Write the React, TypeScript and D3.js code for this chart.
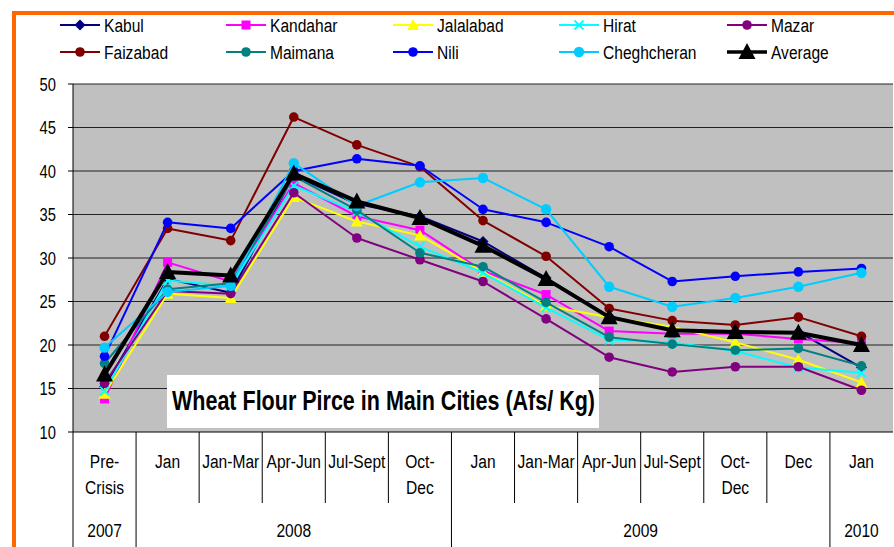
import React from "react";
import * as d3 from "d3";

const monthLabels: string[][] = [
  ["Pre-", "Crisis"], ["Jan"], ["Jan-Mar"], ["Apr-Jun"], ["Jul-Sept"], ["Oct-", "Dec"],
  ["Jan"], ["Jan-Mar"], ["Apr-Jun"], ["Jul-Sept"], ["Oct-", "Dec"], ["Dec"], ["Jan"],
];
const yearLabels = ["2007", "2008", "2009", "2010"];
const yearSpans = [1, 5, 6, 1];
const yTicks = [10, 15, 20, 25, 30, 35, 40, 45, 50];

const kabul = [15.2, 27.6, 26.0, 39.5, 36.2, 34.8, 31.9, 27.7, 23.3, 21.7, 21.5, 21.5, 17.4];
const kandahar = [13.8, 29.5, 27.3, 38.6, 34.8, 33.2, 28.5, 25.8, 21.6, 21.3, 21.3, 20.7, 20.2];
const jalalabad = [14.4, 25.9, 25.4, 37.0, 34.2, 32.6, 28.4, 24.5, 23.2, 22.1, 20.3, 18.3, 15.7];
const hirat = [14.7, 27.4, 26.8, 38.3, 35.3, 31.3, 28.3, 24.3, 20.6, 20.3, 19.3, 17.4, 16.8];
const mazar = [15.6, 26.2, 25.9, 37.5, 32.3, 29.8, 27.3, 23.0, 18.6, 16.9, 17.5, 17.5, 14.8];
const faizabad = [21.0, 33.4, 32.0, 46.2, 43.0, 40.5, 34.3, 30.2, 24.2, 22.8, 22.3, 23.2, 21.0];
const maimana = [17.9, 26.4, 27.1, 39.4, 35.5, 30.6, 29.0, 24.9, 20.9, 20.1, 19.4, 19.6, 17.6];
const nili = [18.7, 34.1, 33.4, 40.0, 41.4, 40.6, 35.6, 34.1, 31.3, 27.3, 27.9, 28.4, 28.8];
const cheghcheran = [19.7, 26.1, 26.8, 40.9, 36.0, 38.7, 39.2, 35.6, 26.7, 24.4, 25.4, 26.7, 28.3];
const average = [16.6, 28.4, 28.0, 39.7, 36.5, 34.6, 31.4, 27.6, 23.2, 21.7, 21.5, 21.4, 20.0];

const seriesNames = ["Kabul", "Kandahar", "Jalalabad", "Hirat", "Mazar", "Faizabad", "Maimana", "Nili", "Cheghcheran", "Average"];
const seriesValues = [kabul, kandahar, jalalabad, hirat, mazar, faizabad, maimana, nili, cheghcheran, average];
const seriesColors = ["#000080", "#FF00FF", "#FFFF00", "#00FFFF", "#800080", "#800000", "#008080", "#0000FF", "#00CCFF", "#000000"];
const seriesMarkers = ["diamond", "square", "triangle", "x", "circle", "circle", "circle", "circle", "circle", "bigtriangle"];

const FONT = "'Liberation Sans', Arial, sans-serif";
const NARROW = 0.82;

function NText({ x, y, size, anchor, children }: { x: number; y: number; size: number; anchor?: string; children: React.ReactNode }) {
  return (
    <g transform={`translate(${x},${y}) scale(${NARROW},1)`}>
      <text x={0} y={0} fontSize={size} textAnchor={anchor || "start"} fill="#000">{children}</text>
    </g>
  );
}

function Marker({ type, x, y, color }: { type: string; x: number; y: number; color: string }) {
  switch (type) {
    case "diamond":
      return <path d={`M${x},${y - 5.5}L${x + 5.5},${y}L${x},${y + 5.5}L${x - 5.5},${y}Z`} fill={color} />;
    case "square":
      return <rect x={x - 4.5} y={y - 4.5} width={9} height={9} fill={color} />;
    case "triangle":
      return <path d={`M${x},${y - 6}L${x + 6},${y + 5}L${x - 6},${y + 5}Z`} fill={color} />;
    case "x":
      return (
        <g stroke={color} strokeWidth={1.8}>
          <line x1={x - 4.5} y1={y - 4.5} x2={x + 4.5} y2={y + 4.5} />
          <line x1={x - 4.5} y1={y + 4.5} x2={x + 4.5} y2={y - 4.5} />
        </g>
      );
    case "bigtriangle":
      return <path d={`M${x},${y - 9}L${x + 8.5},${y + 7}L${x - 8.5},${y + 7}Z`} fill={color} />;
    default:
      return <circle cx={x} cy={y} r={color === "#00CCFF" ? 5.2 : 4.8} fill={color} />;
  }
}

export default function App() {
  const W = 894, H = 547;
  const left = 73, right = 893, top = 84, bottom = 432;
  const x = d3.scaleBand<number>().domain(d3.range(monthLabels.length)).range([left, right]).padding(0);
  const y = d3.scaleLinear().domain([10, 50]).range([bottom, top]);
  const cx = (i: number) => (x(i) as number) + x.bandwidth() / 2;
  const line = d3.line<number>().x((_, i) => cx(i)).y((v) => y(v));

  const yearStarts: number[] = [];
  let acc = 0;
  yearSpans.forEach((s) => { yearStarts.push(acc); acc += s; });

  const legendCols = [60, 226, 393, 559, 727];
  const legendRows = [25, 52];

  return (
    <svg width={W} height={H} style={{ position: "absolute", left: 0, top: 0, display: "block" }} fontFamily={FONT}>
      <rect x={0} y={0} width={W} height={H} fill="#fff" />
      <rect x={13} y={11} width={W - 13} height={4} fill="#FF6600" />
      <rect x={12} y={11} width={4} height={H - 11} fill="#FF6600" />

      {/* legend */}
      {seriesNames.map((n, k) => {
        const col = k % 5, row = Math.floor(k / 5);
        const lx = legendCols[col], ly = legendRows[row];
        return (
          <g key={n}>
            <line x1={lx} x2={lx + 40} y1={ly} y2={ly} stroke={seriesColors[k]} strokeWidth={n === "Average" ? 3.5 : 2} />
            <Marker type={seriesMarkers[k]} x={lx + 20} y={ly} color={seriesColors[k]} />
            <NText x={lx + 44} y={ly + 7} size={19}>{n}</NText>
          </g>
        );
      })}

      {/* plot area */}
      <rect x={left} y={top} width={right - left} height={bottom - top} fill="#C0C0C0" />
      {yTicks.map((t) => (
        <g key={t}>
          {t > 10 && <line x1={left} x2={right} y1={y(t)} y2={y(t)} stroke="#222" strokeWidth={1} />}
          <line x1={left - 5} x2={left} y1={y(t)} y2={y(t)} stroke="#000" />
          <NText x={56} y={y(t) + 6.5} size={18} anchor="end">{t}</NText>
        </g>
      ))}
      <line x1={left} x2={left} y1={top} y2={H} stroke="#000" />
      <line x1={left} x2={right} y1={bottom} y2={bottom} stroke="#000" />

      {/* category axis */}
      {monthLabels.map((lab, i) => {
        const isYearBoundary = yearStarts.includes(i + 1);
        const bx = (x(i) as number) + x.bandwidth();
        return (
          <g key={i}>
            {i + 1 < monthLabels.length && (
              <line x1={bx} x2={bx} y1={bottom} y2={isYearBoundary ? H : 503} stroke="#000" />
            )}
            {lab.map((s, j) => (
              <NText key={j} x={cx(i)} y={468 + j * 26} size={19} anchor="middle">{s}</NText>
            ))}
          </g>
        );
      })}
      {yearLabels.map((yl, k) => {
        const s = yearStarts[k];
        const e = s + yearSpans[k] - 1;
        const mid = ((x(s) as number) + (x(e) as number) + x.bandwidth()) / 2;
        return <NText key={yl} x={mid} y={537} size={19} anchor="middle">{yl}</NText>;
      })}

      {/* title box */}
      <rect x={167} y={375} width={432} height={53} fill="#fff" />
      <text x={172} y={410} fontSize={27} fontWeight="bold" textLength={423} lengthAdjust="spacingAndGlyphs">
        Wheat Flour Pirce in Main Cities (Afs/ Kg)
      </text>

      {/* series */}
      {seriesValues.map((vals, k) => (
        <g key={seriesNames[k]}>
          <path d={line(vals) || ""} fill="none" stroke={seriesColors[k]} strokeWidth={seriesNames[k] === "Average" ? 4 : 2} strokeLinejoin="round" />
          {vals.map((v, i) => (
            <Marker key={i} type={seriesMarkers[k]} x={cx(i)} y={y(v)} color={seriesColors[k]} />
          ))}
        </g>
      ))}
    </svg>
  );
}
